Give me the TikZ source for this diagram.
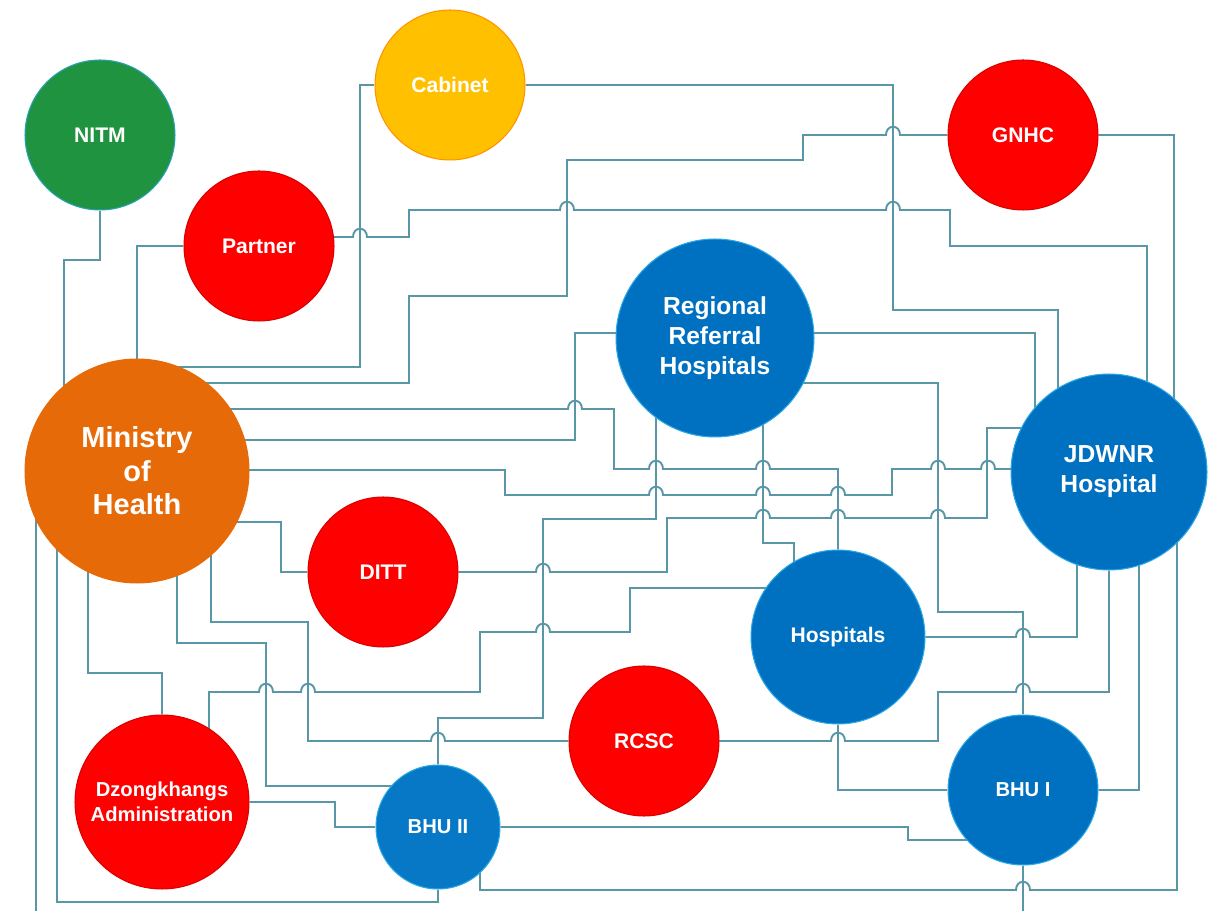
\documentclass[tikz,border=0pt]{standalone}
\usepackage{fontspec}
\setmainfont{Liberation Sans}
\usetikzlibrary{backgrounds}

\definecolor{orgred}{HTML}{FF0000}
\definecolor{orgblue}{HTML}{0070C0}
\definecolor{orgcyan}{HTML}{2AA8E6}
\definecolor{orggreen}{HTML}{1F9340}
\definecolor{orgyellow}{HTML}{FFC000}
\definecolor{orgorange}{HTML}{E66A08}
\definecolor{linkc}{HTML}{5A97A6}

% little bridge where a line jumps over another one
\newcommand{\hopr}[2]{-- ({#1-7},#2) .. controls +(0,-11) and +(0,-11) .. ({#1+7},#2)}
\newcommand{\hopl}[2]{-- ({#1+7},#2) .. controls +(0,-11) and +(0,-11) .. ({#1-7},#2)}

\begin{document}
\begin{tikzpicture}[x=0.02cm, y=-0.02cm,
    org/.style={circle, inner sep=0pt, align=center, text=white, line width=0.6pt,
                minimum size=3cm, font=\bfseries\fontsize{12}{14}\selectfont},
    redorg/.style={org, fill=orgred, draw=orgred!85!black},
    blueorg/.style={org, fill=orgblue, draw=orgcyan},
    link/.style={draw=linkc, line width=1.1pt}]
    \useasboundingbox (0,0) rectangle (1217,911);

    \node[org, fill=orggreen, draw=orgcyan!70!orggreen] (nitm) at (100,135) {NITM};
    \node[org, fill=orgyellow, draw=orange!70!orgyellow] (cabinet) at (450,85) {Cabinet};
    \node[redorg] (gnhc) at (1023,135) {GNHC};
    \node[redorg] (partner) at (259,246) {Partner};
    \node[blueorg, minimum size=3.96cm, font=\bfseries\fontsize{14}{17}\selectfont]
        (rrh) at (715,338) {Regional\\Referral\\Hospitals};
    \node[org, fill=orgorange, draw=orgorange, minimum size=4.48cm,
          font=\bfseries\fontsize{16.5}{19}\selectfont] (moh) at (137,471) {Ministry\\of\\Health};
    \node[blueorg, minimum size=3.92cm, font=\bfseries\fontsize{14}{17}\selectfont]
        (jdwnr) at (1109,472) {JDWNR\\Hospital};
    \node[redorg] (ditt) at (383,572) {DITT};
    \node[blueorg, minimum size=3.48cm] (hosp) at (838,637) {Hospitals};
    \node[redorg] (rcsc) at (644,741) {RCSC};
    \node[blueorg, font=\bfseries\fontsize{11.5}{14}\selectfont] (bhui) at (1023,790) {BHU I};
    \node[redorg, minimum size=3.48cm, font=\bfseries\fontsize{11.5}{14}\selectfont]
        (dzong) at (162,802) {Dzongkhangs\\Administration};
    \node[blueorg, fill=orgblue!85!orgcyan, minimum size=2.48cm,
          font=\bfseries\fontsize{11.5}{14}\selectfont] (bhuii) at (438,827) {BHU II};

    \begin{pgfonlayer}{background}
    % top half
    \draw[link] (nitm) |- (64,260) -- (moh -| 64,0);
    \draw[link] (partner) -| (moh);
    \draw[link] (cabinet) -| (360,367) -| (moh);
    \draw[link] (gnhc) \hopl{893}{135} -- (803,135) -- (803,160) -- (567,160)
        -- (567,296) -- (409,296) -- (409,383) -| (moh);
    \draw[link] (partner |- 0,237) \hopr{360}{237} -- (409,237) -- (409,210)
        \hopr{567}{210} \hopr{893}{210} -- (950,210) -- (950,246) -- (1147,246)
        -- (jdwnr -| 1147,0);
    \draw[link] (cabinet) -| (893,310) -- (1058,310) -- (jdwnr -| 1058,0);
    \draw[link] (gnhc) -| (jdwnr -| 1174,0);
    \draw[link] (rrh |- 0,333) -| (575,440) -| (moh);
    \draw[link] (rrh |- 0,333) -| (jdwnr -| 1035,0);
    \draw[link] (rrh |- 0,383) -- (938,383) -- (938,612) -- (1023,612) -- (bhui);

    % middle band
    \draw[link] (moh |- 0,409) \hopr{575}{409} -- (614,409) -- (614,469)
        \hopr{656}{469} \hopr{763}{469} -- (838,469) -- (hosp);
    \draw[link] (moh |- 0,470) -- (505,470) -- (505,495) \hopr{656}{495}
        \hopr{763}{495} \hopr{838}{495} -- (892,495) -- (892,469)
        \hopr{938}{469} \hopr{988}{469} -- (jdwnr |- 0,469);
    \draw[link] (ditt) \hopr{543}{572} -- (667,572) -- (667,518) \hopr{763}{518}
        \hopr{838}{518} \hopr{938}{518} -- (987,518) -- (987,428) -- (jdwnr |- 0,428);
    \draw[link] (rrh -| 656,0) -- (656,519) -- (543,519) -- (543,718) -- (438,718) -- (bhuii);
    \draw[link] (rrh -| 763,0) -- (763,543) -- (794,543) -- (hosp -| 794,0);
    \draw[link] (moh |- 0,522) -| (281,572) -- (ditt);

    % bottom half
    \draw[link] (moh -| 88,0) |- (162,673) -- (dzong);
    \draw[link] (moh -| 177,0) |- (266,643) -- (266,786) -- (bhuii |- 0,786);
    \draw[link] (rcsc) \hopl{438}{741} -- (308,741) -- (308,622) -- (211,622) -- (moh -| 211,0);
    \draw[link] (hosp |- 0,588) -- (630,588) -- (630,632) \hopl{543}{632} -- (480,632)
        -- (480,692) \hopl{308}{692} \hopl{266}{692} -- (209,692) -- (dzong -| 209,0);
    \draw[link] (dzong) -| (335,827) -- (bhuii);
    \draw[link] (moh -| 57,0) |- (438,902) -- (bhuii);
    \draw[link] (moh -| 36,0) |- (1023,930) -- (bhui);
    \draw[link] (bhuii) -| (908,840) -- (bhui |- 0,840);
    \draw[link] (bhuii -| 480,0) -- (480,890) \hopr{1023}{890} -- (1177,890) -- (jdwnr -| 1177,0);
    \draw[link] (hosp) |- (bhui);
    \draw[link] (rcsc) \hopr{838}{741} -- (938,741) -- (938,692) \hopr{1023}{692} -| (jdwnr);
    \draw[link] (hosp) \hopr{1023}{637} -| (jdwnr -| 1077,0);
    \draw[link] (bhui) -| (jdwnr -| 1139,0);
    \end{pgfonlayer}
\end{tikzpicture}
\end{document}
